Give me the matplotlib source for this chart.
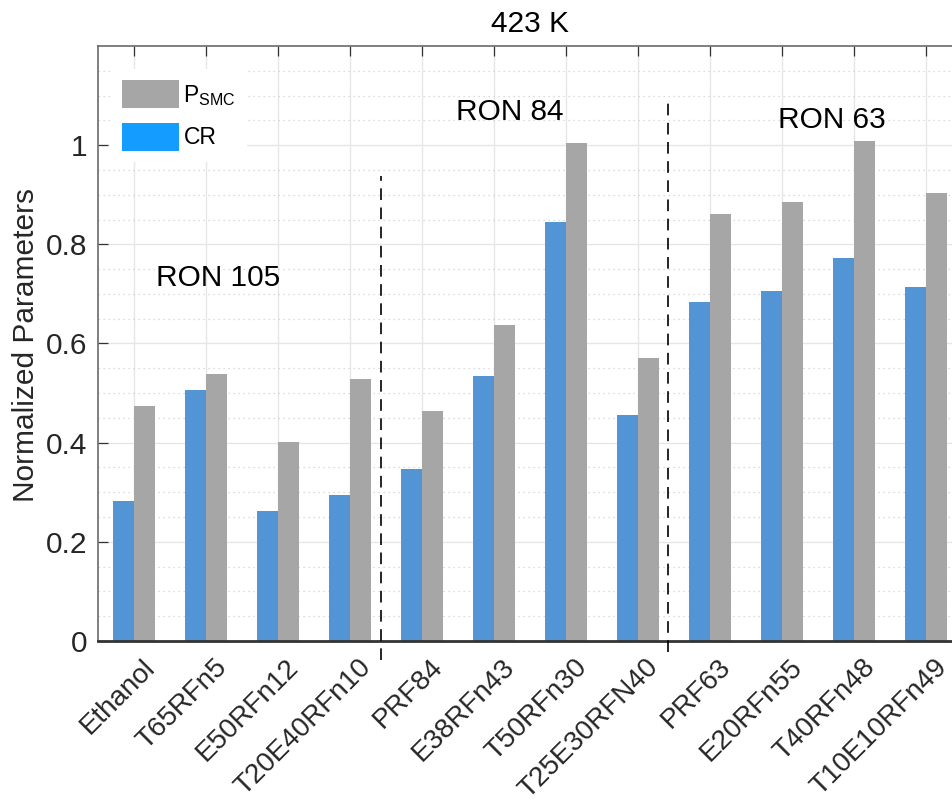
import matplotlib
matplotlib.use("Agg")
import matplotlib.pyplot as plt
import numpy as np
from matplotlib.transforms import ScaledTranslation
from matplotlib.patches import Patch

plt.rcParams['font.family'] = ['Liberation Sans', 'DejaVu Sans']
plt.rcParams['mathtext.fontset'] = 'custom'
plt.rcParams['mathtext.rm'] = 'Liberation Sans'

# Fuel blends and normalized parameters at 423 K
fuels = ['Ethanol', 'T65RFn5', 'E50RFn12', 'T20E40RFn10',
         'PRF84', 'E38RFn43', 'T50RFn30', 'T25E30RFN40',
         'PRF63', 'E20RFn55', 'T40RFn48', 'T10E10RFn49']
cr = [0.282, 0.506, 0.263, 0.294,
      0.346, 0.535, 0.846, 0.455,
      0.683, 0.705, 0.773, 0.714]
p_smc = [0.473, 0.539, 0.402, 0.529,
         0.464, 0.638, 1.005, 0.571,
         0.862, 0.885, 1.009, 0.904]
ytick_vals = [0, 0.2, 0.4, 0.6, 0.8, 1.0]
ytick_labels = ['0', '0.2', '0.4', '0.6', '0.8', '1']

# RON group annotations: (label, x, baseline y)
groups = ['RON 105', 'RON 84', 'RON 63']
group_x = [1.30, 5.47, 9.95]
group_y = [0.716, 1.050, 1.035]

# group separators: (x, y bottom, y top)
sep_x = [4.426, 8.417]
sep_ybot = [-0.038, -0.023]
sep_ytop = [0.938, 1.096]

TXT = '#262626'
BLUE = '#5394D5'
GRAY = '#A6A6A6'
LEG_BLUE = '#149DFF'

fig = plt.figure(figsize=(9.52, 8.05), dpi=100)
ax = fig.add_axes([98 / 952, 164 / 805, 864 / 952, 595 / 805])

x = np.arange(1, len(fuels) + 1)
w = 0.285
ax.bar(x - w / 2, cr, width=w, color=BLUE, linewidth=0, zorder=2)
ax.bar(x + w / 2, p_smc, width=w, color=GRAY, linewidth=0, zorder=2)

ax.set_xlim(0.5, 12.5)
ax.set_ylim(0, 1.2)
ax.set_yticks(ytick_vals)
ax.set_yticklabels(ytick_labels)
ax.set_yticks(np.arange(0.05, 1.2, 0.05), minor=True)
ax.set_xticks(x)
ax.set_xticklabels(fuels)

# grid
ax.set_axisbelow(True)
ax.grid(True, which='major', axis='both', color='#e6e6e6', linewidth=1.0, zorder=0)
ax.grid(True, which='minor', axis='y', color='#d0d0d0', linewidth=0.9,
        linestyle=(0, (1, 3)), zorder=0)

for side in ['left', 'top', 'right']:
    ax.spines[side].set_color('#6a6a6a')
    ax.spines[side].set_linewidth(1.2)
ax.spines['bottom'].set_color('#333333')
ax.spines['bottom'].set_linewidth(2.0)
ax.spines['bottom'].set_zorder(3)

ax.tick_params(axis='both', which='major', direction='in', length=7, width=0.9,
               color='#333333', labelcolor=TXT, labelsize=21.5)
ax.tick_params(axis='both', which='minor', length=0)
ax.tick_params(axis='x', top=True, pad=0, labelsize=20)
ax.tick_params(axis='y', right=True, pad=8)

# rotated fuel labels
off = ScaledTranslation(5.5 / 72, -9.5 / 72, fig.dpi_scale_trans)
for lab in ax.get_xticklabels():
    lab.set_rotation(45)
    lab.set_rotation_mode('anchor')
    lab.set_ha('right')
    lab.set_va('top')
    lab.set_transform(lab.get_transform() + off)

ax.set_ylabel('Normalized Parameters', fontsize=21.5, color=TXT)
ax.yaxis.set_label_coords(-0.067, 0.497)
ax.set_title('423 K', fontsize=21.5, pad=10, color='black')

for g, gx, gy in zip(groups, group_x, group_y):
    ax.text(gx, gy, g, fontsize=21.5, ha='left', va='baseline', color='black', zorder=5)

for sx, yb, yt in zip(sep_x, sep_ybot, sep_ytop):
    ax.plot([sx, sx], [yb, yt], color='black', linewidth=1.2,
            linestyle=(0, (7, 4.5)), clip_on=False, zorder=4)

handles = [Patch(facecolor=GRAY, edgecolor='none'),
           Patch(facecolor=LEG_BLUE, edgecolor='none')]
leg = ax.legend(handles, [r'P$_{\mathregular{SMC}}$', 'CR'],
                loc='upper left', bbox_to_anchor=(0.014, 0.962),
                fontsize=16.5, handlelength=2.5, handleheight=1.5,
                handletextpad=0.2, labelspacing=0.65, borderpad=0.5,
                borderaxespad=0, frameon=True, fancybox=False,
                framealpha=1, facecolor='white', edgecolor='none')
leg.set_zorder(6)

fig.savefig('out.png', dpi=100, facecolor='white')
